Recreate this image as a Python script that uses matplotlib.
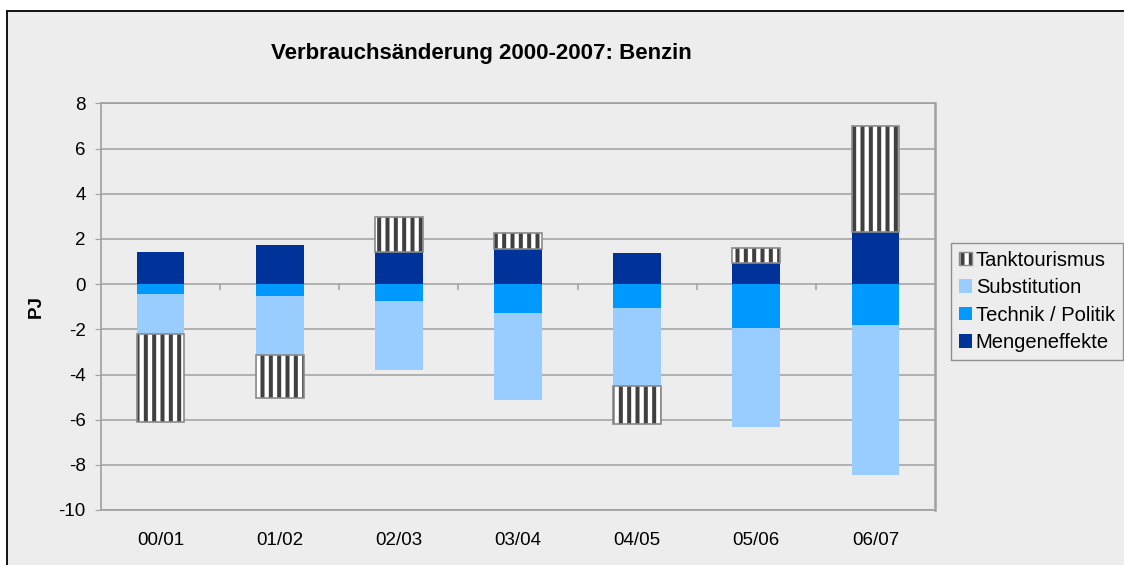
import matplotlib
matplotlib.use("Agg")
import matplotlib.pyplot as plt
from matplotlib.patches import Patch, Rectangle
import numpy as np

# Verbrauchsänderung Benzin, PJ je Jahresschritt
periods = ["00/01", "01/02", "02/03", "03/04", "04/05", "05/06", "06/07"]
mengeneffekte = [1.44, 1.75, 1.43, 1.57, 1.40, 0.95, 2.30]
technik_politik = [-0.42, -0.51, -0.73, -1.26, -1.04, -1.93, -1.80]
substitution = [-1.77, -2.63, -3.06, -3.86, -3.46, -4.39, -6.64]
tanktourismus = [-3.92, -1.92, 1.55, 0.70, -1.70, 0.64, 4.69]

y_ticks = list(range(-10, 9, 2))

plt.rcParams["font.family"] = ["Liberation Sans", "DejaVu Sans"]
plt.rcParams["axes.unicode_minus"] = False
plt.rcParams["hatch.linewidth"] = 2.9
plt.rcParams["hatch.color"] = "#404040"

BG = "#EDEDED"
GRID = "#A0A0A0"
W, H = 1124, 565

fig = plt.figure(figsize=(W / 100, H / 100), dpi=100, facecolor="white")
# grey chart area with black border (runs off the right/bottom edge)
fig.patches.append(Rectangle((7 / W, -0.1), 1.2, 1 - 11 / H + 0.1,
                             transform=fig.transFigure, facecolor=BG,
                             edgecolor="black", lw=1.3, zorder=-1))

ax = fig.add_axes([101 / W, 1 - 510 / H, (935 - 101) / W, (510 - 103.5) / H],
                  facecolor=BG)

x = np.arange(len(periods))
pos_base = np.zeros(len(periods))
neg_base = np.zeros(len(periods))


def stack(vals):
    vals = np.asarray(vals, dtype=float)
    bottom = np.where(vals >= 0, pos_base, neg_base)
    pos_base[:] += np.clip(vals, 0, None)
    neg_base[:] += np.clip(vals, None, 0)
    return bottom


width = 0.4
b_m = ax.bar(x, mengeneffekte, width, bottom=stack(mengeneffekte),
             color="#003399", zorder=2)
b_t = ax.bar(x, technik_politik, width, bottom=stack(technik_politik),
             color="#0099FF", zorder=2)
b_s = ax.bar(x, substitution, width, bottom=stack(substitution),
             color="#99CCFF", zorder=2)
tank_bottom = stack(tanktourismus)
ax.bar(x, tanktourismus, width, bottom=tank_bottom, facecolor="white",
       edgecolor="#404040", lw=0, hatch="||", zorder=2)
ax.bar(x, tanktourismus, width, bottom=tank_bottom, fill=False,
       edgecolor="#8A8A8A", lw=1.2, zorder=3)

ax.set_xlim(-0.5, len(periods) - 0.5)
ax.set_ylim(-10, 8)
ax.set_yticks(y_ticks)
ax.set_xticks(x)
ax.set_xticklabels(periods)
ax.yaxis.grid(True, color=GRID, lw=1.1)
ax.set_axisbelow(True)
ax.tick_params(axis="y", length=4, color=GRID, pad=7, labelsize=13.5)
ax.tick_params(axis="x", length=0, pad=16, labelsize=13.5)
for side, sp in ax.spines.items():
    sp.set_color(GRID)
    sp.set_linewidth(1.2)
ax.spines["right"].set_linewidth(1.8)

# category separators on the zero line
sec = ax.secondary_xaxis(10 / 18)
sec.set_alignment("bottom")
sec.set_xticks(x[:-1] + 0.5)
sec.tick_params(direction="out", length=4.5, color=GRID, width=1.1,
                labelbottom=False, labeltop=False)
for sp in sec.spines.values():
    sp.set_visible(False)

fig.text(481 / W, 1 - 54 / H, "Verbrauchsänderung 2000-2007: Benzin",
         fontsize=16, fontweight="bold", ha="center", va="center")
fig.text(36 / W, 1 - 307 / H, "PJ", rotation=90, fontsize=13.5,
         fontweight="bold", ha="center", va="center")

tank_handle = (Patch(facecolor="white", edgecolor="#404040", lw=0, hatch="||"),
               Patch(fill=False, edgecolor="#8A8A8A", lw=1.0))
handles = [tank_handle, b_s, b_t, b_m]
labels = ["Tanktourismus", "Substitution", "Technik / Politik", "Mengeneffekte"]
leg = fig.legend(handles, labels, loc="upper left",
                 bbox_to_anchor=(951 / W, 1 - 243 / H), fontsize=14.5,
                 frameon=True, fancybox=False, facecolor=BG, framealpha=1,
                 edgecolor="#909090", handlelength=0.65, handleheight=0.65,
                 handletextpad=0.2, labelspacing=0.42, borderpad=0.38,
                 borderaxespad=0)
leg.get_frame().set_linewidth(1.0)

fig.savefig("out.png", dpi=100, facecolor="white")
plt.close(fig)
